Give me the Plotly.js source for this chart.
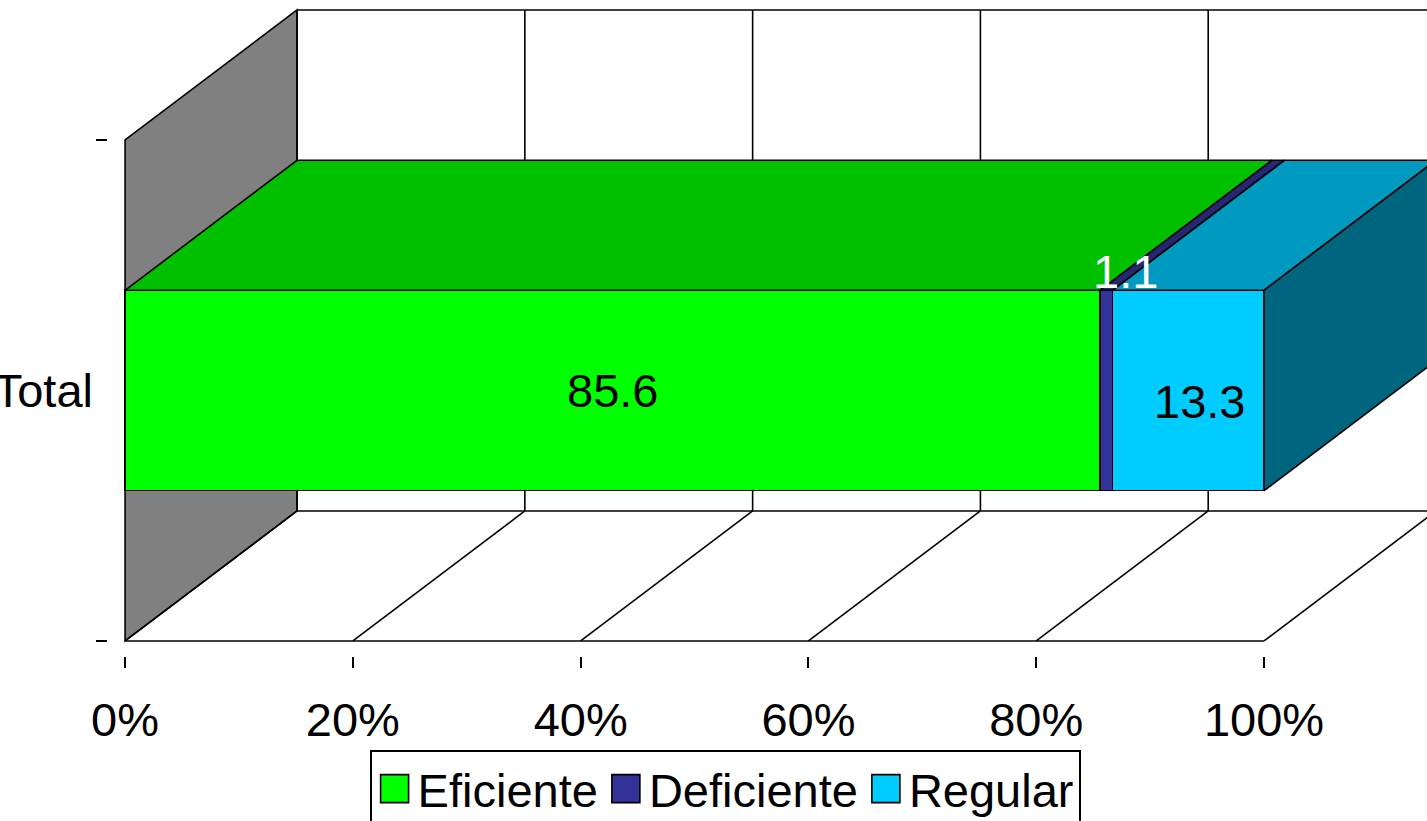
<!DOCTYPE html>
<html>
<head>
<meta charset="utf-8">
<script src="https://cdn.plot.ly/plotly-3.0.1.min.js"></script>
<style>
  html, body { margin: 0; padding: 0; background: #fff; overflow: hidden; }
  #chart { width: 1427px; height: 821px; }
</style>
</head>
<body>
<div id="chart"></div>
<script>
const categories = ['Total'];
const seriesNames = ['Eficiente', 'Deficiente', 'Regular'];
const seriesValues = [85.6, 1.1, 13.3];
const frontColors = ['#00FF00', '#333399', '#00CCFF'];
const topColors = ['#00C000', '#262673', '#0099C0'];
const sideColor = '#006680';
const wallColor = '#808080';
const xTicks = [0, 20, 40, 60, 80, 100];
const xTickLabels = ['0%', '20%', '40%', '60%', '80%', '100%'];

// Oblique projection of the chart box, in axis units
const depthX = 15.1;
const depthY = 0.2595;
const barWidth = 0.4;
const barCentre = 0.5;
const barLow = barCentre - barWidth / 2;
const barHigh = barCentre + barWidth / 2;
const inkWidth = 1.6;
const font = { family: '"Liberation Sans Narrow", "Liberation Sans", Arial, sans-serif', size: 47, color: '#000' };

const polygon = pts => 'M' + pts.map(p => p.join(',')).join('L') + 'Z';
const segment = (x0, y0, x1, y1) => ({
  type: 'line', xref: 'x', yref: 'y', layer: 'below', x0, y0, x1, y1,
  line: { color: '#000', width: inkWidth }
});

// Walls, floor and gridlines sit behind every trace
const shapes = [
  { type: 'path', xref: 'x', yref: 'y', layer: 'below', fillcolor: wallColor,
    line: { color: '#000', width: inkWidth },
    path: polygon([[0, 0], [depthX, depthY], [depthX, 1 + depthY], [0, 1]]) },
  segment(0, 0, 100, 0),
  segment(depthX, depthY, 100 + depthX + 20, depthY),
  segment(depthX, 1 + depthY, 100 + depthX + 20, 1 + depthY)
];
[...xTicks, 120].forEach(t => {
  if (t > 0) segment;
  shapes.push(segment(t, 0, t + depthX, depthY));
  shapes.push(segment(t + depthX, depthY, t + depthX, 1 + depthY));
});

// Front faces
const traces = seriesNames.map((name, i) => ({
  type: 'bar', orientation: 'h', name,
  x: [seriesValues[i]], y: [barCentre], width: [barWidth],
  marker: { color: frontColors[i], line: { color: '#000', width: inkWidth } },
  hoverinfo: 'name+x'
}));

// Top faces, one per stacked segment, then the closing side face
const face = (xs, ys, color) => ({
  type: 'scatter', mode: 'lines', x: xs, y: ys, fill: 'toself', fillcolor: color,
  line: { color: '#000', width: inkWidth }, showlegend: false, hoverinfo: 'skip'
});
let cumulative = 0;
seriesValues.forEach((v, i) => {
  const a = cumulative, b = cumulative + v;
  traces.push(face([a, b, b + depthX, a + depthX, a],
                   [barHigh, barHigh, barHigh + depthY, barHigh + depthY, barHigh], topColors[i]));
  cumulative = b;
});
traces.push(face([cumulative, cumulative + depthX, cumulative + depthX, cumulative, cumulative],
                 [barHigh, barHigh + depthY, barLow + depthY, barLow, barHigh], sideColor));

// Value labels
const labelOffsets = [[0, 0, '#000'], [19, 119, '#fff'], [11, -11, '#000']];
let running = 0;
const annotations = seriesValues.map((v, i) => {
  const centre = running + v / 2;
  running += v;
  return {
    x: centre, y: barCentre, xref: 'x', yref: 'y', text: String(v), showarrow: false,
    xshift: labelOffsets[i][0], yshift: labelOffsets[i][1],
    font: { family: font.family, size: font.size, color: labelOffsets[i][2] }
  };
});

const layout = {
  width: 1427, height: 821,
  margin: { l: 108, r: 0, t: 0, b: 165, autoexpand: false, pad: 0 },
  paper_bgcolor: '#fff', plot_bgcolor: '#fff',
  barmode: 'stack', font: font, hovermode: 'closest',
  xaxis: {
    range: [-1.5, 114.31], tickvals: xTicks, ticktext: xTickLabels,
    ticks: 'outside', ticklen: 11, tickwidth: inkWidth, tickcolor: '#000',
    showgrid: false, zeroline: false, showline: false,
    tickfont: font, ticklabelstandoff: 12
  },
  yaxis: {
    range: [-0.03, 1.2794], tickvals: [barCentre], ticktext: categories,
    ticks: '', showgrid: false, zeroline: false, showline: false,
    tickfont: font, ticklabelstandoff: 14,
    minor: { tickvals: [0, 1], ticks: 'outside', ticklen: 11, tickwidth: inkWidth, tickcolor: '#000', showgrid: false }
  },
  shapes, annotations,
  legend: {
    orientation: 'h', traceorder: 'normal', xref: 'paper', yref: 'paper',
    x: (370 - 108) / 1319, xanchor: 'left', y: (656 - 750) / 656, yanchor: 'top',
    bgcolor: '#fff', bordercolor: '#000', borderwidth: inkWidth,
    font: font, itemwidth: 36, itemclick: false, itemdoubleclick: false
  }
};

Plotly.newPlot('chart', traces, layout, { displayModeBar: false, responsive: false }).then(() => {
  // Enlarge the legend keys to suit the large legend text
  document.querySelectorAll('.legendpoints path').forEach(p => {
    p.setAttribute('d', 'M14,14H-14V-14H14Z');
  });
});
</script>
</body>
</html>
